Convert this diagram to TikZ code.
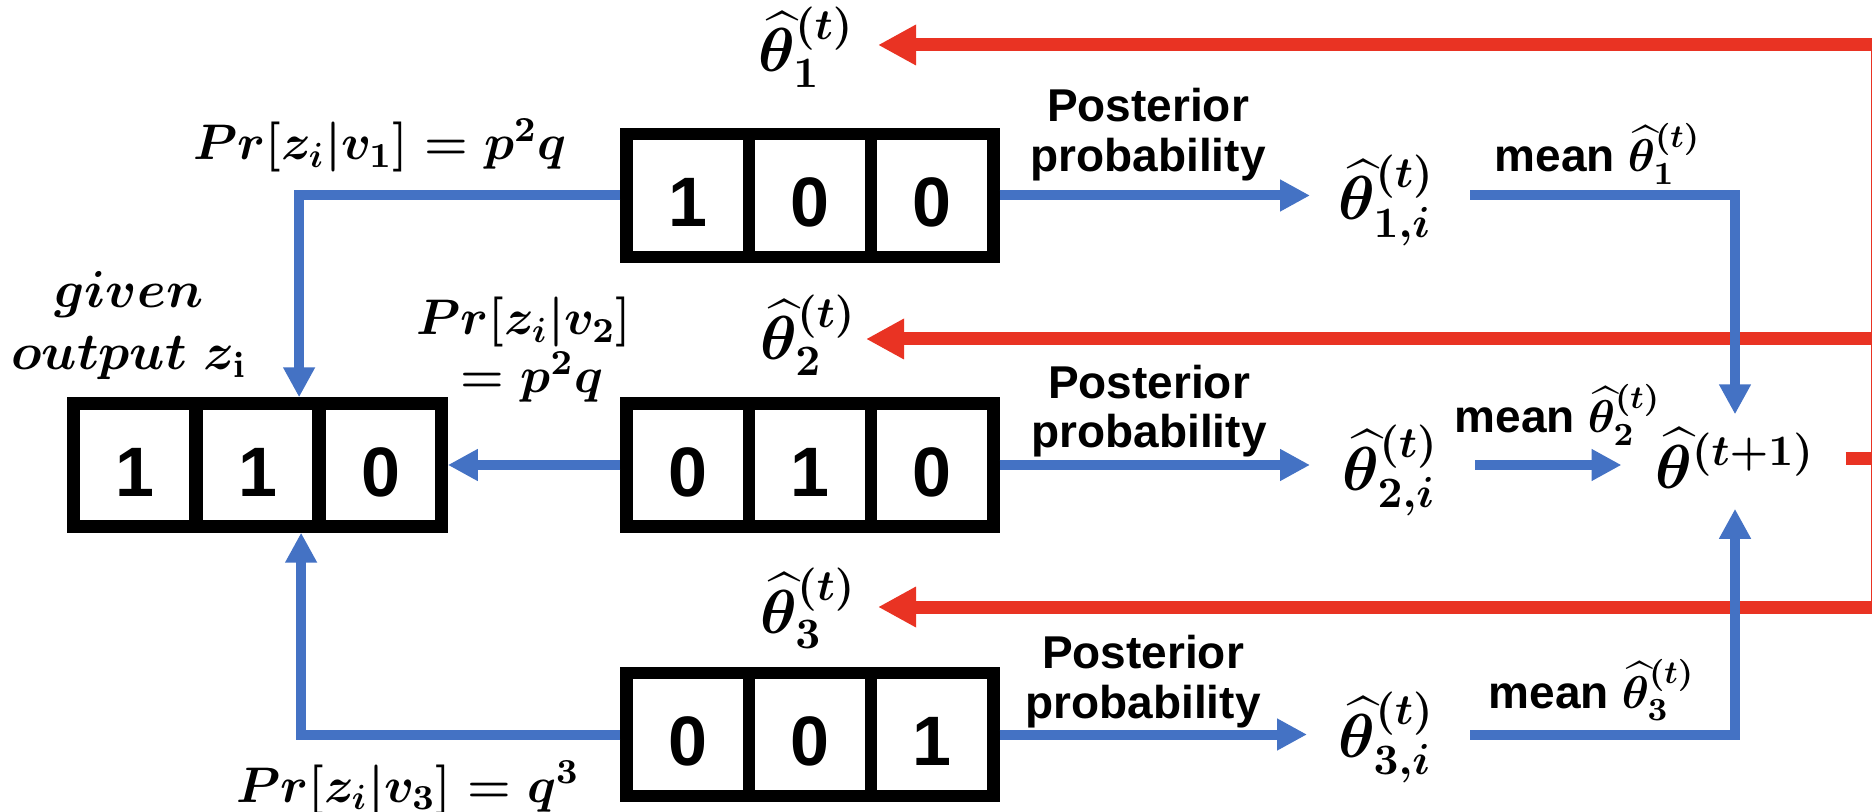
\RequirePackage{fix-cm}
\documentclass[tikz,border=0pt]{standalone}
\usepackage{amsmath}
\usepackage[no-math]{fontspec}
\newfontfamily\lsans{Liberation Sans}
\usetikzlibrary{arrows.meta}
\definecolor{flowblue}{RGB}{68,114,196}
\definecolor{loopred}{RGB}{233,51,35}
\begin{document}
\begin{tikzpicture}[x=0.25pt,y=-0.25pt,
  cell/.style={draw, line width=3.1pt, minimum width=30.58pt, minimum height=30.75pt,
    inner sep=0pt, text height=15.7pt, text depth=0pt,
    font=\lsans\bfseries\fontsize{17.5pt}{20pt}\selectfont},
  mathlab/.style={inner sep=0pt, font=\fontsize{15.5pt}{18pt}\selectfont\boldmath},
  prlab/.style={inner sep=0pt, font=\fontsize{12.5pt}{14.5pt}\selectfont\boldmath},
  givenlab/.style={inner sep=0pt, align=center, font=\fontsize{13pt}{15.5pt}\selectfont\boldmath},
  txt/.style={inner sep=0pt, font=\lsans\bfseries\fontsize{11.5pt}{12.5pt}\selectfont\boldmath},
  flowline/.style={draw=flowblue, line width=2.5pt},
  flow/.style={flowline, -{Triangle[length=7.5pt,width=7.5pt]}},
  backline/.style={draw=loopred, line width=3.25pt},
  back/.style={backline, -{Triangle[length=9.5pt,width=9.5pt]}}]
\useasboundingbox (0,0) rectangle (1872,812);
\begin{scope}
\clip (0,0) rectangle (1872,812);

% given output word
\node[cell] (o1) at (134.5,465) {1};
\node[cell] (o2) at (257.5,465) {1};
\node[cell] (o3) at (380.5,465) {0};
\node[givenlab, anchor=base] (given) at (129,370) {$given$\\$output\ z_{\mathrm{i}}$};

% candidate code words
\node[cell] (a1) at (687.7,195.5) {1};
\node[cell] (a2) at (810,195.5) {0};
\node[cell] (a3) at (932.3,195.5) {0};
\node[cell] (b1) at (687.7,465) {0};
\node[cell] (b2) at (810,465) {1};
\node[cell] (b3) at (932.3,465) {0};
\node[cell] (c1) at (687.7,734.5) {0};
\node[cell] (c2) at (810,734.5) {0};
\node[cell] (c3) at (932.3,734.5) {1};

% likelihood labels
\node[prlab, anchor=base] (pr1) at (380,160) {$Pr[z_i|v_1]=p^2q$};
\node[prlab, anchor=base, align=center] (pr2) at (524,393) {$Pr[z_i|v_2]$\\${}=p^2q$};
\node[prlab, anchor=base] (pr3) at (408,802) {$Pr[z_i|v_3]=q^3$};

% current estimates fed back
\node[mathlab, anchor=base east] (l1) at (855,72) {$\widehat{\theta}^{(t)}_1$};
\node[mathlab, anchor=base east] (l2) at (857,360) {$\widehat{\theta}^{(t)}_2$};
\node[mathlab, anchor=base east] (l3) at (857,633) {$\widehat{\theta}^{(t)}_3$};

% posterior step
\node[txt, align=center, anchor=base] (pp1) at (1148,172) {Posterior\\probability};
\node[txt, align=center, anchor=base] (pp2) at (1149,448) {Posterior\\probability};
\node[txt, align=center, anchor=base] (pp3) at (1143,718) {Posterior\\probability};

\node[mathlab, anchor=base west] (e1) at (1338,220) {$\widehat{\theta}^{(t)}_{1,i}$};
\node[mathlab, anchor=base west] (e2) at (1342,490) {$\widehat{\theta}^{(t)}_{2,i}$};
\node[mathlab, anchor=base west] (e3) at (1338,757) {$\widehat{\theta}^{(t)}_{3,i}$};

% averaging step
\node[txt, anchor=base west] (m1) at (1494,172) {mean $\widehat{\theta}^{(t)}_1$};
\node[txt, anchor=base west] (m2) at (1454,433) {mean $\widehat{\theta}^{(t)}_2$};
\node[txt, anchor=base west] (m3) at (1488,708) {mean $\widehat{\theta}^{(t)}_3$};

\node[mathlab, anchor=base] (tn) at (1735,488) {$\widehat{\theta}^{(t+1)}$};

% feedback loop
\coordinate (fb1) at (1877,45);
\coordinate (fb2) at (1877,339);
\coordinate (fb3) at (1877,607);
\draw[backline] (fb1) -- (fb3);
\draw[backline, shorten <=7.5pt] (tn.east) -- (tn.east -| fb1);
\draw[back, shorten >=5.75pt] (fb1) -- (fb1 -| l1.east);
\draw[back, shorten >=2.25pt] (fb2) -- (fb2 -| l2.east);
\draw[back, shorten >=5.25pt] (fb3) -- (fb3 -| l3.east);

% likelihood connectors
\draw[flow] (a1.west) -| ([xshift=10.4pt]o2.north);
\draw[flow] (b1.west) -- (o3.east);
\draw[flow] (c1.west) -| ([xshift=10.9pt]o2.south);

% posterior connectors
\draw[flow, shorten >=7pt] (a3.east) -- (a3.east -| e1.west);
\draw[flow, shorten >=8pt] (b3.east) -- (b3.east -| e2.west);
\draw[flow, shorten >=7.75pt] (c3.east) -- (c3.east -| e3.west);

% mean connectors
\draw[flow, shorten <=8.75pt, shorten >=3.25pt] (e1.east |- a3.east) -| (tn.north);
\draw[flow, shorten <=9pt, shorten >=8.25pt] (e2.east |- b3.east) -- (tn.west |- b3.east);
\draw[flow, shorten <=8.75pt, shorten >=5pt] (e3.east |- c3.east) -| (tn.south);
\end{scope}
\end{tikzpicture}
\end{document}
